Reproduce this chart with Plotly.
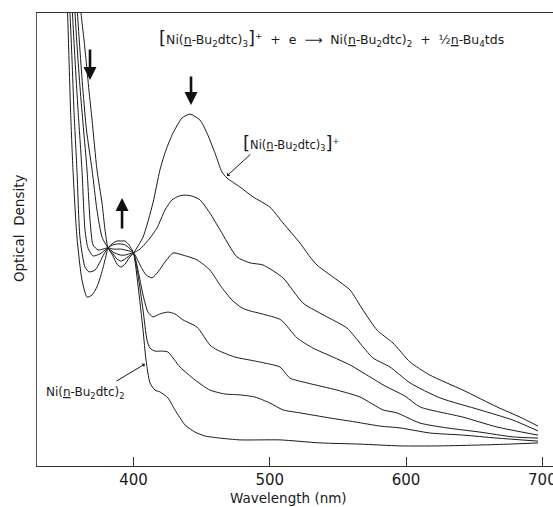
import plotly.graph_objects as go

# ---- data (wavelength in nm, optical density in arbitrary units) ----
wl_ni4 = [360.0, 361.5, 363.7, 365.2, 367.3, 369.6, 373.2, 376.9, 379.1, 381.3, 385.0, 387.9, 390.8, 393.8, 396.7, 400.0,
          407.0, 414.3, 419.4, 423.8, 429.0, 435.6, 441.5, 448.8, 453.9, 459.8, 464.9, 468.6, 478.1, 487.7, 500.1, 509.7,
          522.2, 529.5, 534.6, 551.5, 558.8, 568.4, 578.7, 590.4, 602.8, 617.5, 641.7, 666.7, 683.6, 696.8]
od_ni4 = [1.620, 1.510, 1.420, 1.353, 1.253, 1.153, 0.987, 0.877, 0.787, 0.727, 0.700, 0.673, 0.663, 0.673, 0.693, 0.710,
          0.763, 0.877, 0.987, 1.053, 1.110, 1.160, 1.173, 1.153, 1.110, 1.043, 0.980, 0.960, 0.930, 0.897, 0.863, 0.810,
          0.743, 0.697, 0.670, 0.613, 0.587, 0.520, 0.453, 0.410, 0.347, 0.303, 0.253, 0.197, 0.163, 0.133]

wl_s1 = [357.8, 358.9, 360.7, 362.9, 365.5, 369.6, 373.2, 376.9, 381.3, 385.0, 387.9, 390.8, 393.8, 396.7, 400.0,
         404.8, 412.1, 417.2, 423.1, 428.2, 433.4, 437.8, 442.9, 448.8, 456.1, 463.5, 475.9, 485.5, 495.0, 509.7,
         524.4, 542.0, 556.6, 568.4, 575.7, 588.2, 602.9, 624.9, 654.2, 678.4, 696.8]
od_s1 = [1.620, 1.510, 1.387, 1.253, 1.120, 0.987, 0.853, 0.763, 0.727, 0.707, 0.690, 0.683, 0.690, 0.700, 0.710,
         0.723, 0.760, 0.793, 0.853, 0.887, 0.900, 0.903, 0.900, 0.887, 0.843, 0.787, 0.697, 0.677, 0.670, 0.627,
         0.543, 0.497, 0.460, 0.397, 0.360, 0.330, 0.277, 0.227, 0.187, 0.153, 0.117]

wl_s2 = [356.3, 357.1, 359.3, 361.5, 363.7, 365.9, 368.1, 370.3, 374.0, 377.6, 381.3, 385.0, 387.9, 390.8, 393.8, 396.7,
         400.0, 404.8, 409.2, 413.6, 418.0, 423.1, 429.0, 436.3, 446.6, 456.1, 463.5, 472.3, 479.6, 485.5, 494.3, 508.2,
         520.0, 531.7, 546.4, 558.8, 573.5, 584.5, 599.2, 610.2, 641.7, 666.7, 696.8]
od_s2 = [1.620, 1.510, 1.353, 1.220, 1.103, 0.987, 0.820, 0.737, 0.720, 0.723, 0.727, 0.713, 0.707, 0.703, 0.703, 0.707,
         0.710, 0.670, 0.637, 0.627, 0.647, 0.680, 0.710, 0.703, 0.687, 0.653, 0.603, 0.553, 0.527, 0.517, 0.507, 0.487,
         0.427, 0.393, 0.363, 0.337, 0.297, 0.267, 0.233, 0.197, 0.163, 0.130, 0.103]

wl_s3 = [354.1, 355.2, 357.1, 359.3, 362.2, 364.4, 366.6, 370.3, 375.4, 378.4, 381.3, 385.0, 387.9, 390.8, 393.8, 396.7,
         400.0, 403.3, 407.0, 410.6, 414.3, 419.4, 425.3, 430.4, 436.3, 446.6, 456.1, 461.3, 474.5, 485.5, 496.5, 507.5,
         514.8, 527.3, 549.3, 566.2, 583.1, 593.3, 610.2, 630.0, 654.2, 678.4, 696.8]
od_s3 = [1.620, 1.510, 1.353, 1.187, 0.987, 0.787, 0.727, 0.700, 0.707, 0.717, 0.727, 0.723, 0.723, 0.723, 0.720, 0.717,
         0.710, 0.653, 0.570, 0.513, 0.497, 0.507, 0.513, 0.507, 0.487, 0.463, 0.403, 0.387, 0.363, 0.353, 0.343, 0.330,
         0.293, 0.277, 0.253, 0.230, 0.187, 0.177, 0.143, 0.127, 0.113, 0.097, 0.093]

wl_s4 = [351.9, 353.4, 354.9, 356.3, 358.5, 360.7, 364.4, 367.4, 371.8, 375.4, 378.4, 381.3, 385.0, 387.9, 390.8, 393.8,
         396.7, 400.0, 403.3, 407.0, 409.9, 412.1, 415.8, 420.9, 425.3, 434.1, 445.1, 456.1, 467.1, 478.1, 489.1, 500.1,
         509.7, 522.2, 544.2, 562.5, 580.9, 595.5, 617.5, 641.7, 666.7, 696.8]
od_s4 = [1.620, 1.510, 1.353, 1.187, 0.987, 0.763, 0.663, 0.647, 0.653, 0.680, 0.707, 0.727, 0.737, 0.740, 0.740, 0.737,
         0.727, 0.710, 0.637, 0.520, 0.420, 0.393, 0.383, 0.383, 0.380, 0.330, 0.287, 0.253, 0.240, 0.237, 0.230, 0.210,
         0.187, 0.177, 0.160, 0.147, 0.133, 0.127, 0.110, 0.103, 0.093, 0.083]

wl_ni2 = [350.1, 351.6, 352.7, 353.8, 355.6, 358.5, 362.2, 365.9, 369.6, 373.2, 376.2, 377.6, 379.8, 381.3, 385.0, 387.9,
          390.8, 393.8, 396.7, 400.0, 403.3, 407.0, 409.2, 412.1, 415.8, 419.4, 425.3, 430.4, 437.8, 445.1, 452.5, 463.5,
          478.1, 507.5, 536.8, 566.2, 595.5, 624.9, 654.2, 676.2, 696.8]
od_ni2 = [1.620, 1.510, 1.353, 1.187, 0.987, 0.763, 0.620, 0.563, 0.570, 0.597, 0.637, 0.660, 0.700, 0.727, 0.743, 0.750,
          0.750, 0.750, 0.737, 0.710, 0.603, 0.453, 0.353, 0.277, 0.253, 0.247, 0.227, 0.187, 0.137, 0.113, 0.100, 0.093,
          0.087, 0.087, 0.077, 0.073, 0.067, 0.067, 0.070, 0.073, 0.077]

x_ticks = [400, 500, 600, 700]
x_title = "Wavelength (nm)"
y_title = "Optical\u00a0\u00a0Density"

curves = [(wl_ni4, od_ni4), (wl_s1, od_s1), (wl_s2, od_s2), (wl_s3, od_s3), (wl_s4, od_s4), (wl_ni2, od_ni2)]

FONT = "DejaVu Sans"
INK = "#1a1a1a"

fig = go.Figure()
for wl, od in curves:
    fig.add_trace(go.Scatter(x=wl, y=od, mode="lines",
                             line=dict(color=INK, width=1, shape="spline", smoothing=0.6),
                             hoverinfo="skip", showlegend=False))

fig.update_layout(
    width=553, height=507,
    margin=dict(l=37, r=0, t=13, b=41, autoexpand=False),
    paper_bgcolor="white", plot_bgcolor="white",
    font=dict(family=FONT, color=INK),
    xaxis=dict(range=[329.2, 707.8], tickvals=x_ticks, ticks="inside", ticklen=9, tickwidth=1,
               tickcolor="#333", showline=True, linecolor="#333", linewidth=1, mirror=True,
               ticklabeloverflow="allow", ticklabelstandoff=0, automargin=False,
               showgrid=False, zeroline=False, tickfont=dict(size=15, family=FONT, color=INK)),
    yaxis=dict(range=[0, 1.51], showticklabels=False, ticks="", showline=True, linecolor="#555",
               linewidth=1, showgrid=False, zeroline=False, automargin=False),
)

S = "\u00a0"
big_l = '<span style="font-size:18px">[</span>'
big_r = '<span style="font-size:18px">]</span>'
equation = (big_l + "Ni(<u>n</u>-Bu<sub>2</sub>dtc)<sub>3</sub>" + big_r + "<sup>+</sup>" + S * 2 + "+" + S * 2 + "e" + S * 2 +
            "\u27f6" + S * 2 + "Ni(<u>n</u>-Bu<sub>2</sub>dtc)<sub>2</sub>" + S * 2 + "+" + S * 2 +
            "\u00bd<u>n</u>-Bu<sub>4</sub>tds")
label_ni4 = big_l + "Ni(<u>n</u>-Bu<sub>2</sub>dtc)<sub>3</sub>" + big_r + "<sup>+</sup>"
label_ni2 = "Ni(<u>n</u>-Bu<sub>2</sub>dtc)<sub>2</sub>"

# text annotations (paper coordinates)
fig.add_annotation(xref="paper", yref="paper", x=0.571, y=0.945, text=equation, showarrow=False,
                   font=dict(size=12.5, family=FONT, color=INK), xanchor="center", yanchor="middle")
fig.add_annotation(xref="paper", yref="paper", x=0.492, y=0.715, text=label_ni4, showarrow=False,
                   font=dict(size=11.5, family=FONT, color=INK), xanchor="center", yanchor="middle")
fig.add_annotation(xref="paper", yref="paper", x=0.094, y=0.161, text=label_ni2, showarrow=False,
                   font=dict(size=12, family=FONT, color=INK), xanchor="center", yanchor="middle")
fig.add_annotation(xref="paper", yref="paper", x=-0.035, y=0.525, text=y_title, showarrow=False, textangle=-90,
                   font=dict(size=13.5, family=FONT, color=INK), xanchor="center", yanchor="middle")
fig.add_annotation(xref="paper", yref="paper", x=0.488, y=-0.0706, text=x_title, showarrow=False,
                   font=dict(size=13.5, family=FONT, color=INK), xanchor="center", yanchor="middle")

# pointer lines to the labelled curves
fig.add_annotation(x=468.6, y=0.967, ax=25, ay=-23, text="", showarrow=True, arrowhead=1, arrowsize=0.8,
                   arrowwidth=1, arrowcolor=INK)
fig.add_annotation(x=408.4, y=0.340, ax=-30, ay=18, text="", showarrow=True, arrowhead=1, arrowsize=0.8,
                   arrowwidth=1, arrowcolor=INK)

# bold trend arrows
for (ax_x, ax_y, dy) in [(368.1, 1.287, -32), (442.2, 1.203, -30), (391.6, 0.893, 32)]:
    fig.add_annotation(x=ax_x, y=ax_y, ax=0, ay=dy, text="", showarrow=True, arrowhead=2, arrowsize=1,
                       arrowwidth=2.6, arrowcolor="#111")

fig.write_html("out.html", config={"displayModeBar": False})
